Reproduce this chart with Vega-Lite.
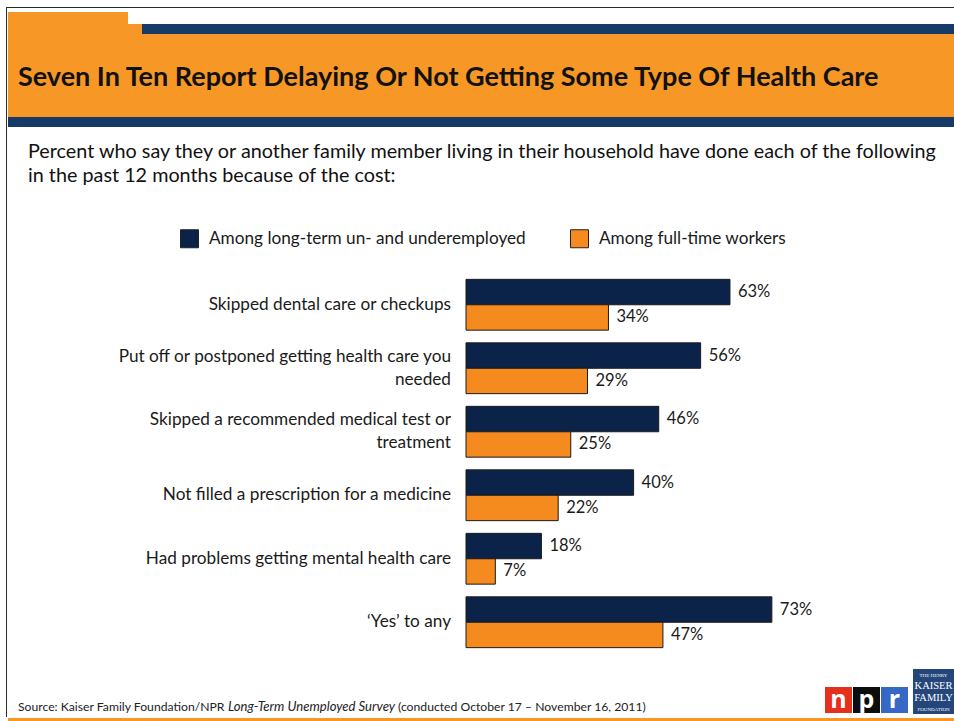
{
  "$schema": "https://vega.github.io/schema/vega-lite/v6.json",
  "padding": 0,
  "background": "white",
  "datasets": {
    "one": [{}],
    "bars": [
      {"item": "Skipped dental care or checkups", "group": "Among long-term un- and underemployed", "pct": 0.63},
      {"item": "Skipped dental care or checkups", "group": "Among full-time workers", "pct": 0.34},
      {"item": "Put off or postponed getting health care you|needed", "group": "Among long-term un- and underemployed", "pct": 0.56},
      {"item": "Put off or postponed getting health care you|needed", "group": "Among full-time workers", "pct": 0.29},
      {"item": "Skipped a recommended medical test or|treatment", "group": "Among long-term un- and underemployed", "pct": 0.46},
      {"item": "Skipped a recommended medical test or|treatment", "group": "Among full-time workers", "pct": 0.25},
      {"item": "Not filled a prescription for a medicine", "group": "Among long-term un- and underemployed", "pct": 0.40},
      {"item": "Not filled a prescription for a medicine", "group": "Among full-time workers", "pct": 0.22},
      {"item": "Had problems getting mental health care", "group": "Among long-term un- and underemployed", "pct": 0.18},
      {"item": "Had problems getting mental health care", "group": "Among full-time workers", "pct": 0.07},
      {"item": "‘Yes’ to any", "group": "Among long-term un- and underemployed", "pct": 0.73},
      {"item": "‘Yes’ to any", "group": "Among full-time workers", "pct": 0.47}
    ]
  },
  "data": {"name": "one"},
  "config": {
    "view": {"stroke": null},
    "concat": {"spacing": 0},
    "font": "Lato"
  },
  "vconcat": [
    {"width": 954, "height": 7, "mark": {"type": "rect", "opacity": 0}},
    {"hconcat": [
      {"width": 6, "height": 1, "mark": {"type": "rect", "opacity": 0}},
      {"width": 948, "height": 1, "mark": {"type": "rect", "color": "#2b2b2b"}}
    ]},
    {"hconcat": [
      {"width": 6, "height": 709, "mark": {"type": "rect", "opacity": 0}},
      {"width": 1, "height": 709, "mark": {"type": "rect", "color": "#2b2b2b"}},
      {"width": 1, "height": 709, "mark": {"type": "rect", "opacity": 0}},
      {"vconcat": [
        {"width": 946, "height": 4, "mark": {"type": "rect", "opacity": 0}},
        {"hconcat": [
          {"width": 120, "height": 22, "mark": {"type": "rect", "color": "#F79826"}},
          {"vconcat": [
            {"width": 826, "height": 12, "mark": {"type": "rect", "opacity": 0}},
            {"hconcat": [
              {"width": 14, "height": 10, "mark": {"type": "rect", "color": "#F79826"}},
              {"width": 812, "height": 10, "mark": {"type": "rect", "color": "#173A66"}}
            ]}
          ]}
        ]},
        {"width": 946, "height": 83, "layer": [
          {"mark": {"type": "rect", "color": "#F79826"}},
          {"mark": {"type": "text", "text": "Seven In Ten Report Delaying Or Not Getting Some Type Of Health Care", "fontSize": 27, "fontWeight": "bold", "color": "#111111", "align": "left", "baseline": "middle", "dx": 10, "dy": 2, "font": "Lato"},
           "encoding": {"x": {"datum": 0, "type": "quantitative", "scale": {"domain": [0, 1]}, "axis": null}}}
        ]},
        {"width": 946, "height": 10, "mark": {"type": "rect", "color": "#173A66"}},
        {"width": 946, "height": 74, "layer": [
          {"mark": {"type": "rect", "opacity": 0}},
          {"mark": {"type": "text", "text": ["Percent who say they or another family member living in their household have done each of the following", "in the past 12 months because of the cost:"], "fontSize": 19.8, "color": "#111111", "align": "left", "baseline": "middle", "dx": 20, "dy": -12, "lineHeight": 24, "font": "Lato"},
           "encoding": {"x": {"datum": 0, "type": "quantitative", "scale": {"domain": [0, 1]}, "axis": null}}}
        ]},
        {"width": 946, "height": 72, "mark": {"type": "rect", "opacity": 0}},
        {"hconcat": [
          {"width": 457, "height": 381, "data": {"name": "bars"},
           "transform": [{"filter": "datum.group === 'Among full-time workers'"}],
           "encoding": {
             "y": {"field": "item", "type": "nominal", "sort": null,
                   "scale": {"domain": ["Skipped dental care or checkups", "Put off or postponed getting health care you|needed", "Skipped a recommended medical test or|treatment", "Not filled a prescription for a medicine", "Had problems getting mental health care", "‘Yes’ to any"], "paddingInner": 0.2, "paddingOuter": 0.1}, "axis": null},
             "x": {"datum": 1, "type": "quantitative", "scale": {"domain": [0, 1]}, "axis": null},
             "text": {"field": "item"}
           },
           "layer": [
             {"transform": [{"filter": "indexof(datum.item, '|') < 0"}],
              "mark": {"type": "text", "align": "right", "baseline": "middle", "dx": -14, "fontSize": 17.2, "color": "#1a1a1a", "font": "Lato"}},
             {"transform": [{"filter": "indexof(datum.item, '|') >= 0"}],
              "mark": {"type": "text", "align": "right", "baseline": "middle", "dx": -14, "dy": -11.5, "fontSize": 17.2, "color": "#1a1a1a", "lineBreak": "|", "lineHeight": 23, "font": "Lato"}}
           ]},
          {
            "width": 419,
            "height": 381,
            "data": {"name": "bars"},
            "encoding": {
              "y": {"field": "item", "type": "nominal", "sort": null,
                    "scale": {"domain": ["Skipped dental care or checkups", "Put off or postponed getting health care you|needed", "Skipped a recommended medical test or|treatment", "Not filled a prescription for a medicine", "Had problems getting mental health care", "‘Yes’ to any"], "paddingInner": 0.2, "paddingOuter": 0.1}, "axis": null},
              "yOffset": {"field": "group", "type": "nominal", "scale": {"domain": ["Among long-term un- and underemployed", "Among full-time workers"]}},
              "x": {"field": "pct", "type": "quantitative", "scale": {"domain": [0, 1]}, "axis": null}
            },
            "layer": [
              {"mark": {"type": "bar", "stroke": "#1a1a1a", "strokeWidth": 1},
               "encoding": {"color": {"field": "group", "type": "nominal",
                 "scale": {"domain": ["Among long-term un- and underemployed", "Among full-time workers"], "range": ["#0C2349", "#F58A1F"]},
                 "legend": {"title": null, "orient": "none", "legendX": 180, "legendY": 229, "direction": "horizontal", "symbolType": "square", "symbolSize": 324, "symbolStrokeColor": "#222222", "symbolStrokeWidth": 1, "symbolOpacity": 1, "labelFontSize": 17.2, "labelFont": "Lato", "labelColor": "#1a1a1a", "labelOffset": 10, "columnPadding": 42, "padding": 0, "labelLimit": 400}}}},
              {"mark": {"type": "text", "align": "left", "baseline": "middle", "dx": 8, "fontSize": 16.5, "color": "#1a1a1a", "font": "Lato"},
               "encoding": {"text": {"field": "pct", "type": "quantitative", "format": ".0%"}}}
            ]
          },
          {"width": 70, "height": 381, "mark": {"type": "rect", "opacity": 0}}
        ]},
        {"width": 946, "height": 15, "mark": {"type": "rect", "opacity": 0}},
        {"hconcat": [
          {"vconcat": [
            {"width": 817, "height": 31, "mark": {"type": "rect", "opacity": 0}},
            {"hconcat": [
              {"width": 10, "height": 14, "mark": {"type": "rect", "opacity": 0}},
              {"width": 210, "height": 14, "layer": [
                {"mark": {"type": "rect", "opacity": 0}},
                {"mark": {"type": "text", "text": "Source: Kaiser Family Foundation/NPR", "fontSize": 12.2, "color": "#222222", "align": "left", "baseline": "middle", "font": "Lato"},
                 "encoding": {"x": {"datum": 0, "type": "quantitative", "scale": {"domain": [0, 1]}, "axis": null}}}
              ]},
              {"width": 170, "height": 14, "layer": [
                {"mark": {"type": "rect", "opacity": 0}},
                {"mark": {"type": "text", "text": "Long-Term Unemployed Survey", "fontSize": 13.1, "fontStyle": "italic", "color": "#222222", "align": "left", "baseline": "middle", "font": "Lato"},
                 "encoding": {"x": {"datum": 0, "type": "quantitative", "scale": {"domain": [0, 1]}, "axis": null}}}
              ]},
              {"width": 260, "height": 14, "layer": [
                {"mark": {"type": "rect", "opacity": 0}},
                {"mark": {"type": "text", "text": "(conducted October 17 – November 16, 2011)", "fontSize": 12.2, "color": "#222222", "align": "left", "baseline": "middle", "font": "Lato"},
                 "encoding": {"x": {"datum": 0, "type": "quantitative", "scale": {"domain": [0, 1]}, "axis": null}}}
              ]},
              {"width": 167, "height": 14, "mark": {"type": "rect", "opacity": 0}}
            ]}
          ]},
          {"vconcat": [
            {"width": 27, "height": 18, "mark": {"type": "rect", "opacity": 0}},
            {"width": 27, "height": 26, "layer": [
              {"mark": {"type": "rect", "color": "#E4301C"}},
              {"mark": {"type": "text", "text": "n", "color": "white", "fontSize": 25, "fontWeight": "bold", "font": "Open Sans", "align": "center", "baseline": "middle"}}
            ]},
            {"width": 27, "height": 1, "mark": {"type": "rect", "opacity": 0}}
          ]},
          {"width": 1, "height": 45, "mark": {"type": "rect", "opacity": 0}},
          {"vconcat": [
            {"width": 27, "height": 18, "mark": {"type": "rect", "opacity": 0}},
            {"width": 27, "height": 26, "layer": [
              {"mark": {"type": "rect", "color": "#0d0d0d"}},
              {"mark": {"type": "text", "text": "p", "color": "white", "fontSize": 25, "fontWeight": "bold", "font": "Open Sans", "align": "center", "baseline": "middle"}}
            ]},
            {"width": 27, "height": 1, "mark": {"type": "rect", "opacity": 0}}
          ]},
          {"width": 1, "height": 45, "mark": {"type": "rect", "opacity": 0}},
          {"vconcat": [
            {"width": 27, "height": 18, "mark": {"type": "rect", "opacity": 0}},
            {"width": 27, "height": 26, "layer": [
              {"mark": {"type": "rect", "color": "#3868C6"}},
              {"mark": {"type": "text", "text": "r", "color": "white", "fontSize": 25, "fontWeight": "bold", "font": "Open Sans", "align": "center", "baseline": "middle"}}
            ]},
            {"width": 27, "height": 1, "mark": {"type": "rect", "opacity": 0}}
          ]},
          {"width": 5, "height": 45, "mark": {"type": "rect", "opacity": 0}},
          {"width": 41, "height": 45, "layer": [
            {"mark": {"type": "rect", "color": "#24467A"}},
            {"mark": {"type": "text", "text": ["KAISER", "FAMILY"], "color": "white", "fontSize": 10.5, "font": "Liberation Serif", "lineHeight": 12, "align": "center", "baseline": "middle", "dy": -6}},
            {"mark": {"type": "text", "text": "THE HENRY", "color": "white", "fontSize": 5, "font": "Liberation Serif", "align": "center", "baseline": "middle", "dy": -17}},
            {"mark": {"type": "text", "text": "FOUNDATION", "color": "white", "fontSize": 5, "font": "Liberation Serif", "align": "center", "baseline": "middle", "dy": 17}}
          ]}
        ]},
        {"width": 946, "height": 3, "mark": {"type": "rect", "opacity": 0}}
      ]}
    ]},
    {"hconcat": [
      {"width": 8, "height": 4, "mark": {"type": "rect", "opacity": 0}},
      {"width": 946, "height": 4, "mark": {"type": "rect", "color": "#F79826"}}
    ]}
  ]
}
